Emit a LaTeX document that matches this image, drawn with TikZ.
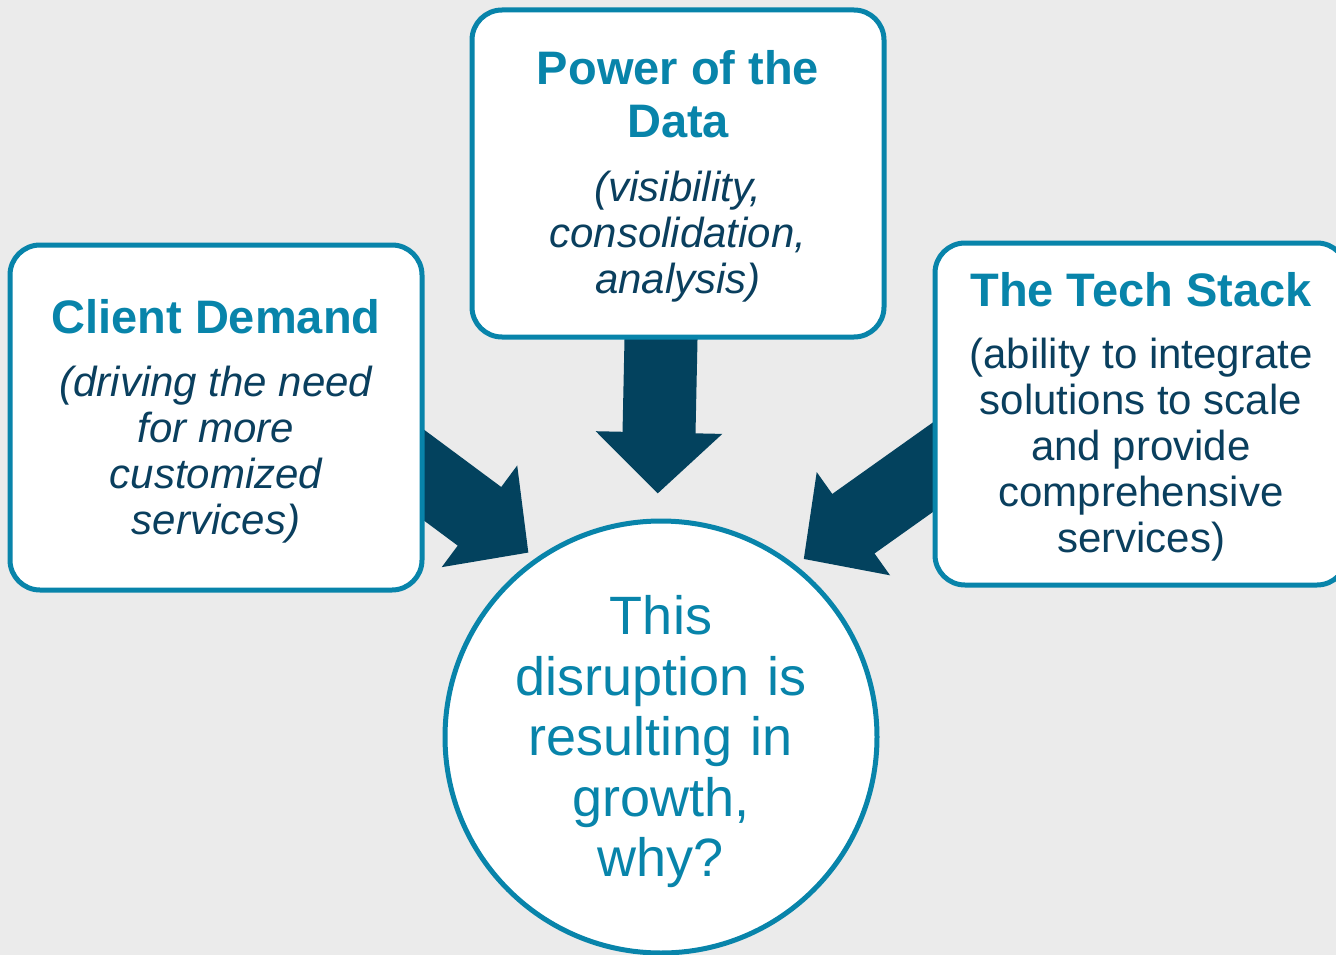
\documentclass[tikz,border=0pt]{standalone}
\usepackage{fontspec}
\setmainfont{Liberation Sans}
\usetikzlibrary{arrows.meta}

\definecolor{boxteal}{HTML}{0884AA}
\definecolor{subblue}{HTML}{0A3F5E}
\definecolor{arrowblue}{HTML}{03425E}
\definecolor{bggray}{HTML}{EBEBEB}

\pgfdeclarelayer{background}
\pgfsetlayers{background,main}

\newcommand{\ttl}{\fontsize{47}{53}\bfseries\selectfont\spaceskip=\fontdimen2\font\relax\color{boxteal}}
\newcommand{\sub}{\fontsize{42}{46}\selectfont\spaceskip=\fontdimen2\font\relax\color{subblue}}

\tikzset{
  box/.style={draw=boxteal, line width=5pt, fill=white, rounded corners=30pt,
    minimum width=412pt, text width=380pt, align=center, inner sep=0pt},
  hub/.style={circle, draw=boxteal, line width=5pt, fill=white, minimum size=432pt,
    inner sep=0pt, text width=295pt, align=center, text=boxteal,
    font=\fontsize{54}{60.5}\selectfont},
  bigarrow/.style={draw=arrowblue, line width=73pt, -{Triangle[length=61pt,width=123pt]}}
}

\begin{document}
\begin{tikzpicture}[x=1pt, y=-1pt]
    \useasboundingbox (0,0) rectangle (1336,955);
    \clip (0,0) rectangle (1336,955);

    % draw boxes
    \node[box, minimum height=345pt] (client) at (216,417.5)
      {\par\vspace*{-12pt}{\ttl Client Demand\par}\vspace{17pt}{\sub\itshape (driving the need\\for more\\customized\\services)\par}};
    \node[box, minimum height=327pt] (data) at (678,173.5)
      {\par\vspace*{-13pt}{\ttl Power of the\\Data\par}\vspace{18pt}{\sub\itshape (visibility,\\consolidation,\\analysis)\par}};
    \node[box, minimum height=342pt] (tech) at (1141,414)
      {\par\vspace*{-13pt}{\ttl The Tech Stack\par}\vspace{16pt}{\sub (ability to integrate\\solutions to scale\\and provide\\comprehensive\\services)\par}};

    % draw circle
    \node[hub] (hub) at (661,737) {This\\disruption is\\resulting in\\growth,\\why?\par\vspace{-10pt}};

    % draw background and arrows
    \begin{pgfonlayer}{background}
      \fill[bggray] (0,0) rectangle (1336,955);
      \draw[bigarrow, shorten <=-30pt, shorten >=25pt] ([xshift=-17pt]data.south) -- (hub.91);
      \draw[bigarrow, shorten <=-30pt, shorten >=9pt] ([yshift=-58pt]client.east) -- (hub.125);
      \draw[bigarrow, shorten <=-30pt, shorten >=10pt] ([yshift=-53.5pt]tech.west) -- (hub.52);
    \end{pgfonlayer}
\end{tikzpicture}
\end{document}
